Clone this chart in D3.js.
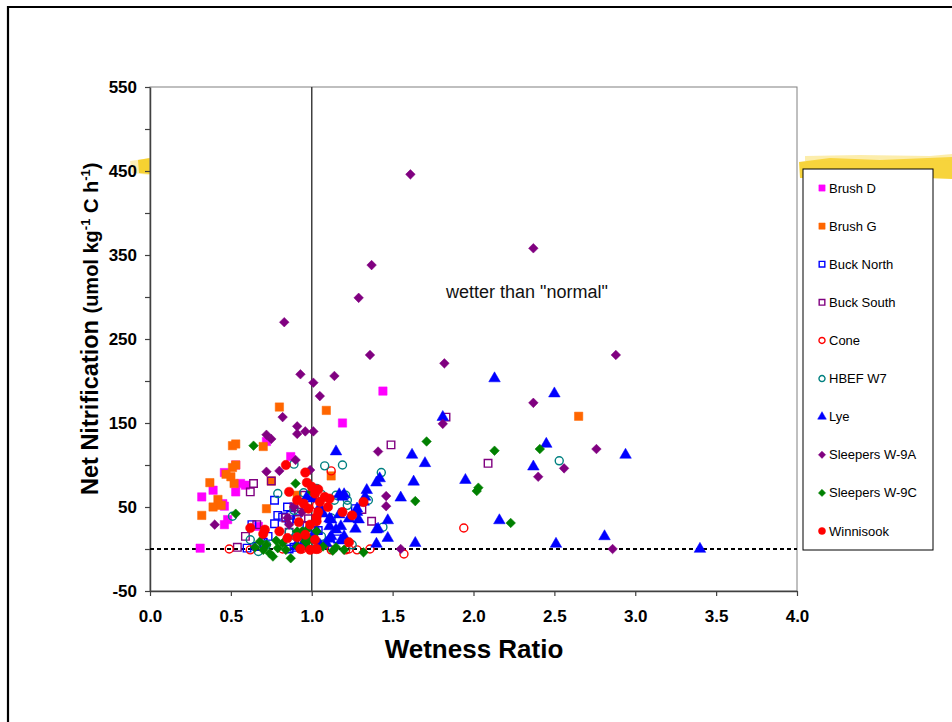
<!DOCTYPE html>
<html>
<head>
<meta charset="utf-8">
<script src="https://cdn.jsdelivr.net/npm/d3@7"></script>
<style>
  body { margin: 0; background: #fff; }
  text { font-family: "Liberation Sans", Arial, sans-serif; }
</style>
</head>
<body>
<svg id="chart"></svg>
<script>
// values: [wetness ratio, net nitrification]
const brushD = [[0.31,1],[0.32,62],[0.39,70],[0.45,54],[0.46,51],[0.48,35],[0.46,29],[0.46,91],[0.53,100],[0.53,68],[0.56,78],[0.59,76],[0.72,128],[0.87,110],[0.67,27],[1.19,150],[1.44,188]];
const brushG = [[0.80,169],[1.09,165],[2.65,158],[0.51,123],[0.53,125],[0.70,122],[0.53,100],[0.51,97],[0.47,89],[0.50,86],[0.52,78],[0.37,79],[0.42,59],[0.39,50],[0.44,52],[0.32,40],[0.72,48],[0.75,81],[0.91,64],[1.12,87]];
const buckNorth = [[0.77,58],[0.85,50],[0.79,40],[0.63,29],[0.73,15],[0.60,1],[0.87,40],[0.91,36],[0.82,38],[0.77,30],[0.86,35],[1.00,17],[0.86,0],[0.89,2],[0.66,3],[0.70,8],[0.94,8],[1.04,22],[1.08,5],[1.16,12],[0.97,28],[1.27,48]];
const buckSouth = [[1.83,157],[2.09,102],[1.49,124],[1.37,33],[0.64,78],[0.62,68],[0.75,81],[0.84,37],[0.66,29],[0.59,15],[0.54,2],[0.89,50],[0.92,44],[0.95,64],[0.86,20],[0.98,36],[1.31,47]];
const cone = [[1.94,25],[1.12,93],[1.03,52],[1.28,-1],[1.57,-6],[1.02,0],[1.21,-1],[0.49,0],[0.94,0],[0.82,0],[1.04,0],[1.12,-1],[1.23,0],[0.62,-1],[1.36,0]];
const hbefW7 = [[2.53,105],[1.08,99],[1.19,100],[1.43,91],[1.03,72],[1.21,64],[1.22,58],[1.22,52],[1.35,58],[1.12,37],[1.44,26],[1.06,15],[1.25,5],[1.14,58],[0.89,101],[0.79,66],[0.89,46],[0.51,39],[0.95,67],[1.06,65],[1.15,64],[0.62,11],[0.67,-3],[0.90,15],[0.98,5],[0.86,20],[0.72,5]];
const lye = [[2.13,203],[2.50,185],[1.81,157],[2.45,125],[2.37,98],[2.94,112],[1.95,82],[2.16,34],[2.51,6],[2.81,15],[3.40,0],[1.15,116],[1.62,112],[1.70,102],[1.63,80],[1.42,84],[1.40,79],[1.34,70],[1.55,61],[1.33,62],[1.32,56],[1.28,48],[1.29,35],[1.47,34],[1.41,24],[1.27,24],[1.47,13],[1.40,6],[1.64,7],[1.17,65],[1.20,65],[1.19,62],[1.17,41],[1.23,36],[1.28,44],[1.40,23],[1.15,23],[1.18,27],[1.20,15],[1.12,35],[1.11,27],[1.12,15],[1.09,7],[0.97,62],[1.01,60],[1.05,50],[1.07,42],[1.11,36],[1.05,5],[1.11,12],[1.18,10],[0.95,8],[1.00,14],[0.90,3],[1.03,22]];
const sleepersA = [[1.61,446],[2.37,358],[1.37,338],[1.29,299],[0.83,270],[1.36,231],[1.82,221],[2.88,231],[0.93,208],[1.01,198],[1.14,206],[1.05,182],[2.37,174],[0.82,157],[1.81,149],[2.76,119],[2.56,96],[2.40,86],[2.86,0],[0.96,140],[1.01,140],[0.91,146],[0.91,137],[0.72,136],[0.75,131],[0.90,106],[0.72,92],[0.80,93],[0.99,94],[0.40,29],[0.85,37],[0.86,29],[0.89,50],[0.94,44],[1.41,116],[1.46,63],[1.46,51],[1.55,0],[0.95,20]];
const sleepersC = [[2.13,117],[2.41,119],[2.02,69],[2.03,73],[2.23,31],[1.71,128],[1.64,57],[1.32,-4],[1.13,-2],[1.02,70],[1.00,68],[0.97,23],[0.94,21],[0.97,8],[0.64,123],[0.53,42],[0.90,78],[0.68,9],[0.72,5],[0.74,-5],[0.76,-9],[0.70,-1],[0.65,2],[0.79,1],[0.82,7],[0.84,-1],[0.87,-11],[0.91,3],[0.96,9],[0.98,1],[1.07,3],[1.15,2],[0.91,21],[0.94,17],[0.98,13],[1.03,21],[0.78,10],[1.20,-1]];
const winnisook = [[0.84,100],[0.96,91],[0.86,68],[0.97,79],[1.00,74],[1.02,66],[1.04,71],[0.91,58],[0.95,54],[0.98,48],[1.04,44],[1.05,56],[1.11,60],[1.10,50],[1.19,44],[1.25,40],[1.32,56],[1.03,38],[1.03,33],[0.92,32],[0.99,29],[0.62,25],[0.71,23],[0.80,21],[0.91,14],[0.96,17],[1.02,11],[0.70,18],[0.85,13],[1.23,8],[0.93,0],[1.03,0],[1.08,62],[0.99,-1]];

const xTicks = [0, 0.5, 1, 1.5, 2, 2.5, 3, 3.5, 4];
const yTicks = [-50, 0, 50, 100, 150, 200, 250, 300, 350, 400, 450, 500, 550];
const yLabels = [-50, 50, 150, 250, 350, 450, 550];

const series = [
  { name: "Brush D", data: brushD, shape: "square", color: "#FF00FF", filled: true },
  { name: "Brush G", data: brushG, shape: "square", color: "#FF6600", filled: true },
  { name: "Buck North", data: buckNorth, shape: "square", color: "#0000FF", filled: false },
  { name: "Buck South", data: buckSouth, shape: "square", color: "#800080", filled: false },
  { name: "Cone", data: cone, shape: "circle", color: "#FF0000", filled: false },
  { name: "HBEF W7", data: hbefW7, shape: "circle", color: "#008080", filled: false },
  { name: "Lye", data: lye, shape: "triangle", color: "#0000FF", filled: true },
  { name: "Sleepers W-9A", data: sleepersA, shape: "diamond", color: "#800080", filled: true },
  { name: "Sleepers W-9C", data: sleepersC, shape: "diamond", color: "#008000", filled: true },
  { name: "Winnisook", data: winnisook, shape: "circle", color: "#FF0000", filled: true }
];

const width = 952, height = 722;
const svg = d3.select("#chart").attr("width", width).attr("height", height);

const x = d3.scaleLinear().domain([0, 4]).range([150, 797]);
const y = d3.scaleLinear().domain([-50, 550]).range([591, 87]);

// outer slide frame
svg.append("path")
  .attr("d", "M8,722 L8,7 L952,7")
  .attr("fill", "none").attr("stroke", "#000").attr("stroke-width", 2.2);

// yellow highlighter strokes
svg.append("path")
  .attr("d", "M130,161 L150,158 L150,175 L132,173 Z")
  .attr("fill", "#F8D030").attr("opacity", 0.35);
svg.append("path")
  .attr("d", "M138,160 L150,158 L150,174 L139,173 Z")
  .attr("fill", "#F6CC1A").attr("opacity", 0.85);
svg.append("path")
  .attr("d", "M799,162 L830,158 L880,160 L952,157 L952,179 L900,177 L800,178 Z")
  .attr("fill", "#F6CC1A").attr("opacity", 0.85);
svg.append("path")
  .attr("d", "M805,156 L860,155 L930,156 L952,154 L952,160 L805,161 Z")
  .attr("fill", "#F8D848").attr("opacity", 0.45);

// plot frame
svg.append("rect")
  .attr("x", 150).attr("y", 87).attr("width", 647).attr("height", 504)
  .attr("fill", "none").attr("stroke", "#808080").attr("stroke-width", 1);

// axes
const yAxis = svg.append("g")
  .attr("transform", "translate(150,0)")
  .call(d3.axisLeft(y).tickValues(yTicks).tickSize(5).tickSizeOuter(0).tickPadding(8)
    .tickFormat(d => yLabels.includes(d) ? d : ""));
yAxis.selectAll("text").attr("font-size", 17).attr("font-weight", "bold").attr("fill", "#000")
  .style("font-family", "'Liberation Sans', Arial, sans-serif");

const xAxis = svg.append("g")
  .attr("transform", "translate(0,591)")
  .call(d3.axisBottom(x).tickValues(xTicks).tickSize(5).tickSizeOuter(0).tickPadding(14)
    .tickFormat(d3.format(".1f")));
xAxis.selectAll("text").attr("font-size", 17).attr("font-weight", "bold").attr("fill", "#000")
  .style("font-family", "'Liberation Sans', Arial, sans-serif");

[yAxis, xAxis].forEach(g => {
  g.select(".domain").attr("stroke", "#404040").attr("stroke-width", 1.5);
  g.selectAll(".tick line").attr("stroke", "#404040").attr("stroke-width", 1.2);
});

// reference lines
svg.append("line")
  .attr("x1", x(1)).attr("x2", x(1)).attr("y1", y(550)).attr("y2", y(-50))
  .attr("stroke", "#404040").attr("stroke-width", 1.5);
svg.append("line")
  .attr("x1", x(0)).attr("x2", x(4)).attr("y1", y(0)).attr("y2", y(0))
  .attr("stroke", "#000").attr("stroke-width", 1.8).attr("stroke-dasharray", "4,3");

// markers
function markerPath(shape, k) {
  if (shape === "square") return d3.symbol(d3.symbolSquare, 70 * k * k)();
  if (shape === "diamond") return d3.symbol(d3.symbolSquare, 46 * k * k)();
  if (shape === "triangle") return d3.symbol(d3.symbolTriangle, 58 * k * k)();
  return d3.symbol(d3.symbolCircle, 70 * k * k)();
}

function drawMarker(sel, s, k) {
  const open = !s.filled;
  let size = k;
  if (open && s.shape === "circle") size = k * 0.85;
  if (open && s.shape === "square") size = k * 0.9;
  sel.attr("d", markerPath(s.shape, size))
    .attr("fill", s.filled ? s.color : "none")
    .attr("stroke", s.color)
    .attr("stroke-width", open ? 1.4 : 0.5);
}

series.forEach(s => {
  const g = svg.append("g");
  g.selectAll("path")
    .data(s.data)
    .enter()
    .append("path")
    .attr("transform", d => `translate(${x(d[0])},${y(d[1])})` + (s.shape === "diamond" ? " rotate(45)" : ""))
    .call(sel => drawMarker(sel, s, 1));
});

// annotation
svg.append("text")
  .attr("x", 446).attr("y", 298)
  .attr("font-size", 18).attr("fill", "#111")
  .text('wetter than "normal"');

// axis titles
svg.append("text")
  .attr("x", 474).attr("y", 658)
  .attr("text-anchor", "middle")
  .attr("font-size", 26).attr("font-weight", "bold")
  .text("Wetness Ratio");

const yt = svg.append("text")
  .attr("transform", "translate(98,495) rotate(-90)")
  .attr("font-weight", "bold");
yt.append("tspan").attr("font-size", 23.5).text("Net Nitrification ");
yt.append("tspan").attr("font-size", 20).text("(umol kg");
yt.append("tspan").attr("font-size", 13).attr("dy", -8).text("-1");
yt.append("tspan").attr("font-size", 20).attr("dy", 8).text(" C h");
yt.append("tspan").attr("font-size", 13).attr("dy", -8).text("-1");
yt.append("tspan").attr("font-size", 20).attr("dy", 8).text(")");

// legend
const legend = svg.append("g");
legend.append("rect")
  .attr("x", 803).attr("y", 169).attr("width", 130).attr("height", 381)
  .attr("fill", "#fff").attr("stroke", "#000").attr("stroke-width", 1);

const legendY = d3.scaleLinear().domain([0, series.length - 1]).range([188, 531]);
series.forEach((s, i) => {
  const cy = legendY(i);
  legend.append("path")
    .attr("transform", `translate(822,${cy})` + (s.shape === "diamond" ? " rotate(45)" : ""))
    .call(sel => drawMarker(sel, s, 0.75));
  legend.append("text")
    .attr("x", 829).attr("y", cy + 4.5)
    .attr("font-size", 13).attr("fill", "#000")
    .text(s.name);
});
</script>
</body>
</html>
